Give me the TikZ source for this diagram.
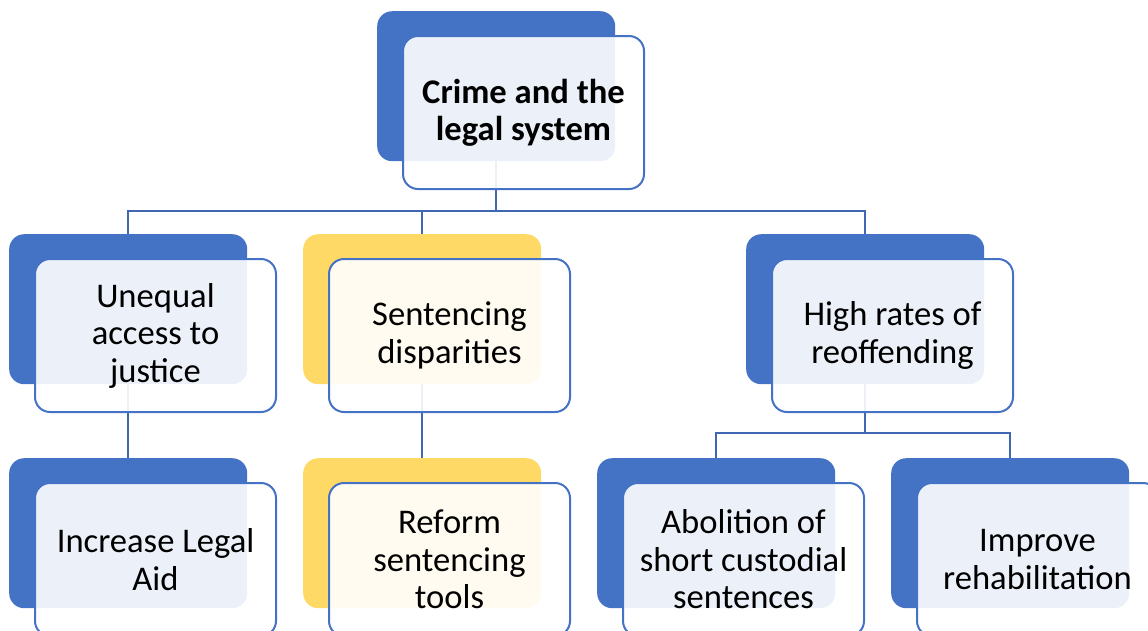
\documentclass[tikz,border=0pt]{standalone}
\usepackage{fontspec}
\setmainfont{Carlito}
\definecolor{cblue}{HTML}{4472C4}
\definecolor{cyellow}{HTML}{FFD966}
\definecolor{clink}{HTML}{4068B2}
\begin{document}
\begin{tikzpicture}[x=1pt,y=-1pt,
  back/.style={rectangle, rounded corners=15pt, minimum width=238pt, minimum height=150pt, anchor=north west, inner sep=0pt},
  bblue/.style={back, fill=cblue},
  byellow/.style={back, fill=cyellow},
  front/.style={rectangle, rounded corners=15pt, minimum width=241pt, minimum height=153pt, draw=cblue, line width=2pt, fill=white, fill opacity=0.9, text opacity=1, anchor=north west, align=center, inner sep=0pt, font=\fontsize{34.6}{37.5}\selectfont},
  topfront/.style={front, font=\fontsize{34.6}{37}\selectfont\bfseries},
  link/.style={draw=clink, line width=2pt}]
\useasboundingbox (0,0) rectangle (1148,630);
\clip (0,0) rectangle (1148,630);
% back boxes
\node[bblue]   (b0) at (377,11)  {};
\node[bblue]   (b1) at (9,234)   {};
\node[byellow] (b2) at (303,234) {};
\node[bblue]   (b3) at (746,234) {};
\node[bblue]   (b4) at (9,458)   {};
\node[byellow] (b5) at (303,458) {};
\node[bblue]   (b6) at (597,458) {};
\node[bblue]   (b7) at (891,458) {};
% connectors
\coordinate (j0) at (496,211);
\coordinate (j3) at (864,433);
\draw[link] (b0.south) -- (b0.south |- j0) -| (b1.north);
\draw[link] (b0.south |- j0) -| (b2.north);
\draw[link] (b0.south |- j0) -| (b3.north);
\draw[link] (b1.south) -- (b4.north);
\draw[link] (b2.south) -- (b5.north);
\draw[link] (b3.south) -- (b3.south |- j3) -| (b6.north);
\draw[link] (b3.south |- j3) -| (b7.north);
% front boxes
\node[topfront] (f0) at ([xshift=25pt,yshift=-24pt]b0.north west) {Crime and the\\legal system};
\node[front] (f1) at ([xshift=25pt,yshift=-24pt]b1.north west) {Unequal\\access to\\justice};
\node[front] (f2) at ([xshift=25pt,yshift=-24pt]b2.north west) {Sentencing\\disparities};
\node[front] (f3) at ([xshift=25pt,yshift=-24pt]b3.north west) {High rates of\\reoffending};
\node[front] (f4) at ([xshift=25pt,yshift=-24pt]b4.north west) {Increase Legal\\Aid};
\node[front] (f5) at ([xshift=25pt,yshift=-24pt]b5.north west) {Reform\\sentencing\\tools};
\node[front] (f6) at ([xshift=25pt,yshift=-24pt]b6.north west) {Abolition of\\short custodial\\sentences};
\node[front] (f7) at ([xshift=25pt,yshift=-24pt]b7.north west) {Improve\\rehabilitation};
\end{tikzpicture}
\end{document}
